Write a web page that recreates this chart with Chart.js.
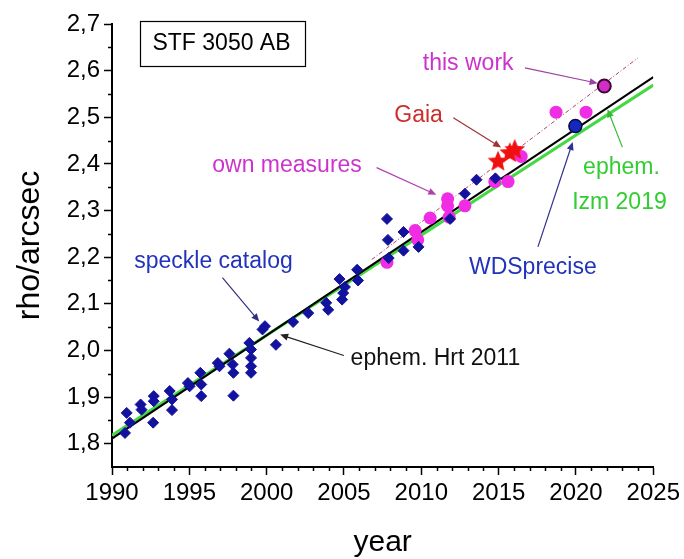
<!DOCTYPE html>
<html lang="en">
<head>
    <meta charset="UTF-8">
    <title>STF 3050 AB separation</title>
    <style>
        body {
            margin: 0;
            background: #fff;
        }
        #chart {
            display: block;
        }
    </style>
</head>
<body>
    <canvas id="chart" width="684" height="559"></canvas>

    <script src="https://cdn.jsdelivr.net/npm/chart.js"></script>
    <script>
        // speckle catalog measures (blue diamonds)
        const speckleYears = [1990.95, 1990.84, 1991.16, 1991.85, 1991.91, 1992.70, 1992.70, 1992.66, 1993.73, 1993.88,
            1993.88, 1994.91, 1995.02, 1995.71, 1995.77, 1995.77, 1996.84, 1996.95, 1997.59, 1997.80,
            1997.85, 1997.85, 1998.88, 1998.99, 1998.99, 1998.99, 1998.99, 1999.73, 1999.89, 2000.60,
            2001.71, 2002.69, 2003.85, 2003.98, 2004.71, 2005.06, 2004.95, 2004.88, 2005.85, 2005.91,
            2007.78, 2007.84, 2007.89, 2008.85, 2008.85, 2009.82, 2011.86, 2012.82, 2013.57, 2014.79];
        const speckleRho = [1.866, 1.823, 1.845, 1.884, 1.873, 1.902, 1.891, 1.845, 1.913, 1.895,
            1.872, 1.930, 1.923, 1.952, 1.927, 1.902, 1.973, 1.966, 1.993, 1.970,
            1.952, 1.903, 2.016, 2.002, 1.984, 1.966, 1.952, 2.045, 2.052, 2.012,
            2.061, 2.080, 2.102, 2.087, 2.153, 2.136, 2.123, 2.109, 2.173, 2.150,
            2.282, 2.237, 2.198, 2.254, 2.214, 2.222, 2.282, 2.336, 2.366, 2.369];

        // own measures (magenta circles)
        const ownYears = [2007.78, 2009.60, 2009.77, 2010.57, 2011.70, 2011.70, 2011.80, 2012.82, 2014.75, 2015.61,
            2016.46, 2018.71, 2020.65];
        const ownRho = [2.189, 2.257, 2.237, 2.284, 2.325, 2.310, 2.286, 2.310, 2.362, 2.362,
            2.416, 2.511, 2.511];

        // Gaia
        const gaiaYears = [2014.96, 2015.72, 2016.04];
        const gaiaRho = [2.405, 2.423, 2.430];

        // WDS precise measure and this work
        const wdsYears = [2019.96];
        const wdsRho = [2.481];
        const thisWorkYears = [2021.83];
        const thisWorkRho = [2.567];

        // ephemerides and the fitted trend
        const hrtYears = [1990, 2025];
        const hrtRho = [1.811, 2.586];
        const izmYears = [1990, 2025];
        const izmRho = [1.818, 2.569];
        const trendYears = [2006.8, 2024];
        const trendRho = [2.195, 2.627];

        // axes
        const yearMin = 1990, yearMax = 2025;
        const rhoMin = 1.75, rhoMax = 2.7;
        const yearTicks = [1990, 1995, 2000, 2005, 2010, 2015, 2020, 2025];
        const rhoTicks = [1.8, 1.9, 2.0, 2.1, 2.2, 2.3, 2.4, 2.5, 2.6, 2.7];

        const FONT = 'Arial, "Liberation Sans", sans-serif';

        function pts(xs, ys) {
            return xs.map((x, i) => ({ x: x, y: ys[i] }));
        }

        // filled star for the Gaia points
        function makeStar(r, color) {
            const c = document.createElement('canvas');
            c.width = c.height = Math.ceil(r * 2 + 2);
            const g = c.getContext('2d');
            const cx = c.width / 2, cy = c.height / 2;
            g.beginPath();
            for (let i = 0; i < 10; i++) {
                const rad = (i % 2 === 0) ? r : r * 0.45;
                const a = -Math.PI / 2 + i * Math.PI / 5;
                g.lineTo(cx + rad * Math.cos(a), cy + rad * Math.sin(a));
            }
            g.closePath();
            g.fillStyle = color;
            g.fill();
            return c;
        }

        // text labels and arrows, placed in data units
        const notes = [
            { text: 'this work', color: '#cc33cc', x: 2013.03, y: 2.616, arrow: [2016.7, 2.606, 2021.4, 2.573], arrowColor: '#a040a0' },
            { text: 'Gaia', color: '#cc2e2e', x: 2009.82, y: 2.503, arrow: [2012.07, 2.499, 2015.16, 2.435], arrowColor: '#a03434' },
            { text: 'own measures', color: '#cc33cc', x: 2001.32, y: 2.396, arrow: [2007.11, 2.392, 2010.97, 2.334], arrowColor: '#b040b0' },
            { text: 'speckle catalog', color: '#2233bb', x: 1996.56, y: 2.190, arrow: [1997.14, 2.156, 1999.52, 2.062], arrowColor: '#303080' },
            { text: 'ephem. Hrt 2011', color: '#111', x: 2010.91, y: 1.982, arrow: [2004.99, 1.989, 2000.87, 2.034], arrowColor: '#222' },
            { text: 'WDSprecise', color: '#2233bb', x: 2017.21, y: 2.177, arrow: [2017.54, 2.222, 2019.79, 2.447], arrowColor: '#303090' },
            { text: 'ephem.', color: '#33cc33', x: 2022.94, y: 2.391 },
            { text: 'Izm 2019', color: '#33cc33', x: 2022.81, y: 2.316, arrow: [2023.0, 2.436, 2022.04, 2.517], arrowColor: '#33bb33' }
        ];

        function drawArrow(ctx, x1, y1, x2, y2, color) {
            const a = Math.atan2(y2 - y1, x2 - x1);
            const len = 8, half = 3.5;
            ctx.strokeStyle = color;
            ctx.fillStyle = color;
            ctx.lineWidth = 1.2;
            ctx.beginPath();
            ctx.moveTo(x1, y1);
            ctx.lineTo(x2 - Math.cos(a) * len * 0.6, y2 - Math.sin(a) * len * 0.6);
            ctx.stroke();
            ctx.beginPath();
            ctx.moveTo(x2, y2);
            ctx.lineTo(x2 - len * Math.cos(a) + half * Math.sin(a), y2 - len * Math.sin(a) - half * Math.cos(a));
            ctx.lineTo(x2 - len * Math.cos(a) - half * Math.sin(a), y2 - len * Math.sin(a) + half * Math.cos(a));
            ctx.closePath();
            ctx.fill();
        }

        const notesPlugin = {
            id: 'notes',
            afterDraw(chart) {
                const ctx = chart.ctx;
                const xs = chart.scales.x, ys = chart.scales.y;
                ctx.save();

                // minor ticks every year and every 0.05 arcsec
                ctx.strokeStyle = '#000';
                ctx.lineWidth = 1.5;
                ctx.beginPath();
                for (let yr = yearMin + 1; yr < yearMax; yr++) {
                    if (yearTicks.includes(yr)) continue;
                    const px = Math.round(xs.getPixelForValue(yr)) + 0.5;
                    ctx.moveTo(px, xs.top);
                    ctx.lineTo(px, xs.top + 4);
                }
                rhoTicks.slice(0, -1).forEach(v => {
                    const py = Math.round(ys.getPixelForValue(v + 0.05)) + 0.5;
                    ctx.moveTo(ys.right, py);
                    ctx.lineTo(ys.right - 4, py);
                });
                ctx.stroke();

                // title box
                ctx.font = '23px ' + FONT;
                ctx.textAlign = 'center';
                ctx.textBaseline = 'middle';
                const bx = xs.getPixelForValue(1997.08), by = ys.getPixelForValue(2.657);
                ctx.lineWidth = 1.2;
                ctx.strokeStyle = '#000';
                ctx.strokeRect(140.5, 21.5, 165, 45);
                ctx.fillStyle = '#000';
                ctx.fillText('STF 3050 AB', bx, by);

                notes.forEach(n => {
                    if (n.arrow) {
                        drawArrow(ctx,
                            xs.getPixelForValue(n.arrow[0]), ys.getPixelForValue(n.arrow[1]),
                            xs.getPixelForValue(n.arrow[2]), ys.getPixelForValue(n.arrow[3]),
                            n.arrowColor);
                    }
                    ctx.fillStyle = n.color;
                    ctx.fillText(n.text, xs.getPixelForValue(n.x), ys.getPixelForValue(n.y));
                });
                ctx.restore();
            }
        };

        const ctx = document.getElementById('chart').getContext('2d');
        new Chart(ctx, {
            type: 'scatter',
            data: {
                datasets: [
                    {
                        label: 'this work',
                        data: pts(thisWorkYears, thisWorkRho),
                        backgroundColor: '#d42cc8',
                        borderColor: '#3a0830',
                        borderWidth: 2,
                        pointRadius: 6.5
                    },
                    {
                        label: 'WDSprecise',
                        data: pts(wdsYears, wdsRho),
                        backgroundColor: '#1428c0',
                        borderColor: '#0a0a40',
                        borderWidth: 1.5,
                        pointRadius: 6.5
                    },
                    {
                        label: 'Gaia',
                        data: pts(gaiaYears, gaiaRho),
                        pointStyle: makeStar(11, '#f01010'),
                        pointRadius: 11
                    },
                    {
                        label: 'speckle catalog',
                        data: pts(speckleYears, speckleRho),
                        pointStyle: 'rectRot',
                        backgroundColor: '#12129e',
                        borderColor: '#12129e',
                        borderWidth: 1,
                        pointRadius: 5.5
                    },
                    {
                        label: 'own measures',
                        data: pts(ownYears, ownRho),
                        backgroundColor: '#f02ce4',
                        borderColor: '#f02ce4',
                        borderWidth: 0,
                        pointRadius: 6.5
                    },
                    {
                        label: 'trend',
                        data: pts(trendYears, trendRho),
                        showLine: true,
                        pointRadius: 0,
                        borderColor: '#b04070',
                        borderWidth: 1,
                        borderDash: [4, 2, 1, 2]
                    },
                    {
                        label: 'ephem. Hrt 2011',
                        data: pts(hrtYears, hrtRho),
                        showLine: true,
                        pointRadius: 0,
                        borderColor: '#000',
                        borderWidth: 2
                    },
                    {
                        label: 'ephem. Izm 2019',
                        data: pts(izmYears, izmRho),
                        showLine: true,
                        pointRadius: 0,
                        borderColor: '#44d844',
                        borderWidth: 3
                    }
                ]
            },
            options: {
                responsive: false,
                animation: false,
                layout: {
                    padding: { top: 24, right: 28, left: 0, bottom: 0 }
                },
                plugins: {
                    legend: { display: false },
                    tooltip: { enabled: false }
                },
                scales: {
                    x: {
                        type: 'linear',
                        min: yearMin,
                        max: yearMax,
                        afterBuildTicks(scale) {
                            scale.ticks = yearTicks.map(v => ({ value: v }));
                        },
                        ticks: {
                            color: '#000',
                            padding: 4,
                            maxRotation: 0,
                            font: { family: FONT, size: 24 },
                            callback: v => String(v)
                        },
                        grid: {
                            drawOnChartArea: false,
                            tickLength: 8,
                            tickColor: '#000',
                            tickWidth: 1.5
                        },
                        border: { color: '#000', width: 2 },
                        title: {
                            display: true,
                            text: 'year',
                            color: '#000',
                            font: { family: FONT, size: 30, lineHeight: 1 },
                            padding: { top: 0, bottom: 1 }
                        },
                        afterFit(scale) {
                            scale.height = 92;
                        }
                    },
                    y: {
                        min: rhoMin,
                        max: rhoMax,
                        afterBuildTicks(scale) {
                            scale.ticks = rhoTicks.map(v => ({ value: v }));
                        },
                        ticks: {
                            color: '#000',
                            padding: 4,
                            font: { family: FONT, size: 24 },
                            callback: v => v.toFixed(1).replace('.', ',')
                        },
                        grid: {
                            drawOnChartArea: false,
                            tickLength: 8,
                            tickColor: '#000',
                            tickWidth: 1.5
                        },
                        border: { color: '#000', width: 2 },
                        title: {
                            display: true,
                            text: 'rho/arcsec',
                            color: '#000',
                            font: { family: FONT, size: 32, lineHeight: 1 },
                            padding: { top: 14, bottom: 0 }
                        },
                        afterFit(scale) {
                            scale.width = 112;
                        }
                    }
                }
            },
            plugins: [notesPlugin]
        });
    </script>
</body>
</html>
